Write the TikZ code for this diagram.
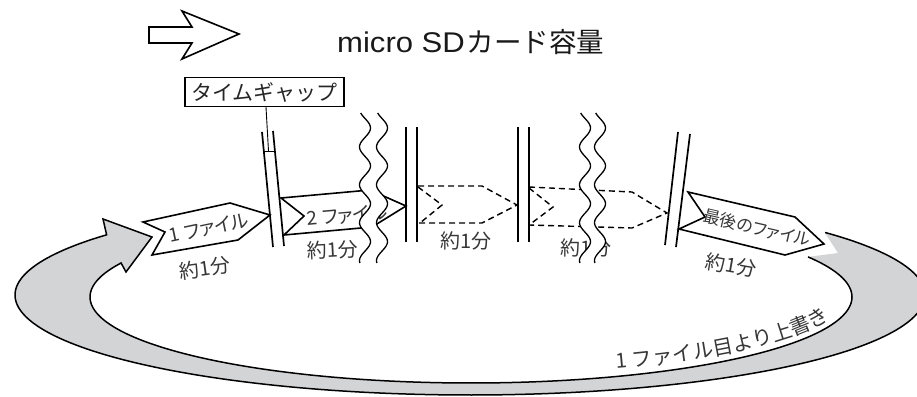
\documentclass[tikz,border=0pt]{standalone}
\usepackage{fontspec}
\newfontfamily\jp[RawFeature=+palt]{Noto Sans CJK JP}
\newfontfamily\jpn{Noto Sans CJK JP}
\newfontfamily\latw[FakeStretch=1.09]{Liberation Sans}
\definecolor{bandgray}{RGB}{211,212,214}
\definecolor{txt}{RGB}{55,55,55}
\newcommand\wavepair[4]{%
  \fill[white] plot[domain=#3:#4,samples=90,smooth] ({#1+5.5*sin((\x-#3)*9.5-52)},\x) -- plot[domain=#4:#3,samples=90,smooth] ({#2+5.5*sin((\x-#3)*9.5-52)},\x) -- cycle;
  \draw[wave] plot[domain=#3:#4,samples=90,smooth] ({#1+5.5*sin((\x-#3)*9.5-52)},\x);
  \draw[wave] plot[domain=#3:#4,samples=90,smooth] ({#2+5.5*sin((\x-#3)*9.5-52)},\x);
}
\begin{document}
\begin{tikzpicture}[x=1pt,y=-1pt,
  outl/.style={line width=1.6pt, line join=miter},
  dbl/.style={line width=1.7pt},
  dsh/.style={line width=1.4pt, dash pattern=on 6pt off 4pt},
  wave/.style={line width=1.3pt},
  lbl/.style={font=\jp\fontsize{19}{19}\selectfont, text=txt, inner sep=0pt},
  minlbl/.style={font=\jp\fontsize{20}{20}\selectfont, text=txt, inner sep=0pt},
  ]
\useasboundingbox (0,0) rectangle (917,396);
\clip (0,0) rectangle (917,396);

% big grey loop arrow
\fill[bandgray] (825,233) -- plot[domain=-38.7:217,samples=200] ({470+455*cos(\x)},{295+100*sin(\x)})
  -- (103,219) -- (152,237) -- (126,272)
  -- plot[domain=203.3:-27.8,samples=200] ({471+381*cos(\x)},{297+86*sin(\x)})
  -- (838,253) -- cycle;
\draw[line width=1.5pt, line join=miter] plot[domain=-38.7:217,samples=200] ({470+455*cos(\x)},{295+100*sin(\x)})
  -- (103,219) -- (152,237) -- (126,272)
  -- plot[domain=203.3:-27.8,samples=200] ({471+381*cos(\x)},{297+86*sin(\x)});

% legend arrow
\draw[outl] (149,27) -- (192,27) -- (182,11) -- (239,34) -- (182,59) -- (192,43) -- (149,43) -- cycle;
\node[anchor=base west, text=black!90, inner sep=0pt] (sd) at (337,52.5)
  {{\latw\fontsize{28.5}{29}\selectfont micro SD}\hspace{2pt}{\jpn\fontsize{27.5}{28}\selectfont カード容量}};

% time gap label
\node[draw, line width=1.2pt, font=\jpn\fontsize{21}{21}\selectfont, text=black!85, minimum width=159pt, minimum height=29pt, inner sep=0pt] (gap) at (264.5,92) {タイムギャップ};
\coordinate (gl) at (268.5,151);
\draw[line width=0.9pt] (gap.south) ++(1.5,0) -- (gl);
\draw[line width=0.9pt] (263.8,151) -- (274.8,151);

% file 1
\filldraw[outl, fill=white] (143,222) -- (230,203) -- (270,215) -- (238,240) -- (152,255) -- (165,232) -- cycle;
\node[lbl, rotate=12] (f1) at (209,228) {1 ファイル};
\node[minlbl, rotate=8] (m1) at (205,268) {約1分};

% file 2
\filldraw[outl, fill=white] (281,198) -- (370,190) -- (406,206) -- (372,227) -- (284,235) -- (304,216) -- cycle;
\node[lbl, rotate=5, anchor=west] (f2) at (307,219) {2 ファイル};
\node[minlbl, rotate=3] (m2) at (333,250) {約1分};

% dashed files
\draw[dsh] (418,186) -- (482,186) -- (517,205) -- (482,223) -- (418,223);
\draw[dsh] (418,187) -- (442,205) -- (420,223);
\node[minlbl] (m3) at (466,241) {約1分};
\draw[dsh] (529,187) -- (632,192) -- (667,213) -- (632,228) -- (529,225);
\draw[dsh] (529,188) -- (553,207) -- (529,225);
\node[minlbl] (m4) at (586,248) {約1分};

% double lines
\draw[dbl] (262,132) -- (273,247) (273,131) -- (284,246);
\draw[dbl] (406,127) -- (406,242) (417,127) -- (417,242);
\draw[dbl] (518,127) -- (518,242) (529,127) -- (529,242);
\draw[dbl] (678,132) -- (665,245) (690,134) -- (676,247);

% wavy breaks
\wavepair{365}{382}{113}{263}
\wavepair{585}{600}{113}{263}

% last file
\filldraw[outl, fill=white] (688,192) -- (795,217) -- (824,244) -- (785,255) -- (679,229) -- (705,217) -- cycle;
\node[font=\jp\fontsize{17}{17}\selectfont, text=txt, inner sep=0pt, rotate=-13] (fl) at (757,228) {最後のファイル};
\node[minlbl, rotate=-10] (m5) at (731,265) {約1分};

% overwrite text along the inner edge
\foreach \c/\t [count=\i] in {1/66.1, フ/62.6, ァ/59.0, イ/55.3, ル/51.4, 目/47.4, よ/43.0, り/38.3, 上/33.2, 書/27.3, き/20.4}
  \node[anchor=base, inner sep=0pt, font=\jpn\fontsize{20.5}{20.5}\selectfont, text=txt,
        rotate={atan2(78*cos(\t),374*sin(\t))}] (ow\i) at ({471+374*cos(\t)},{297+78*sin(\t)}) {\c};
\end{tikzpicture}
\end{document}
